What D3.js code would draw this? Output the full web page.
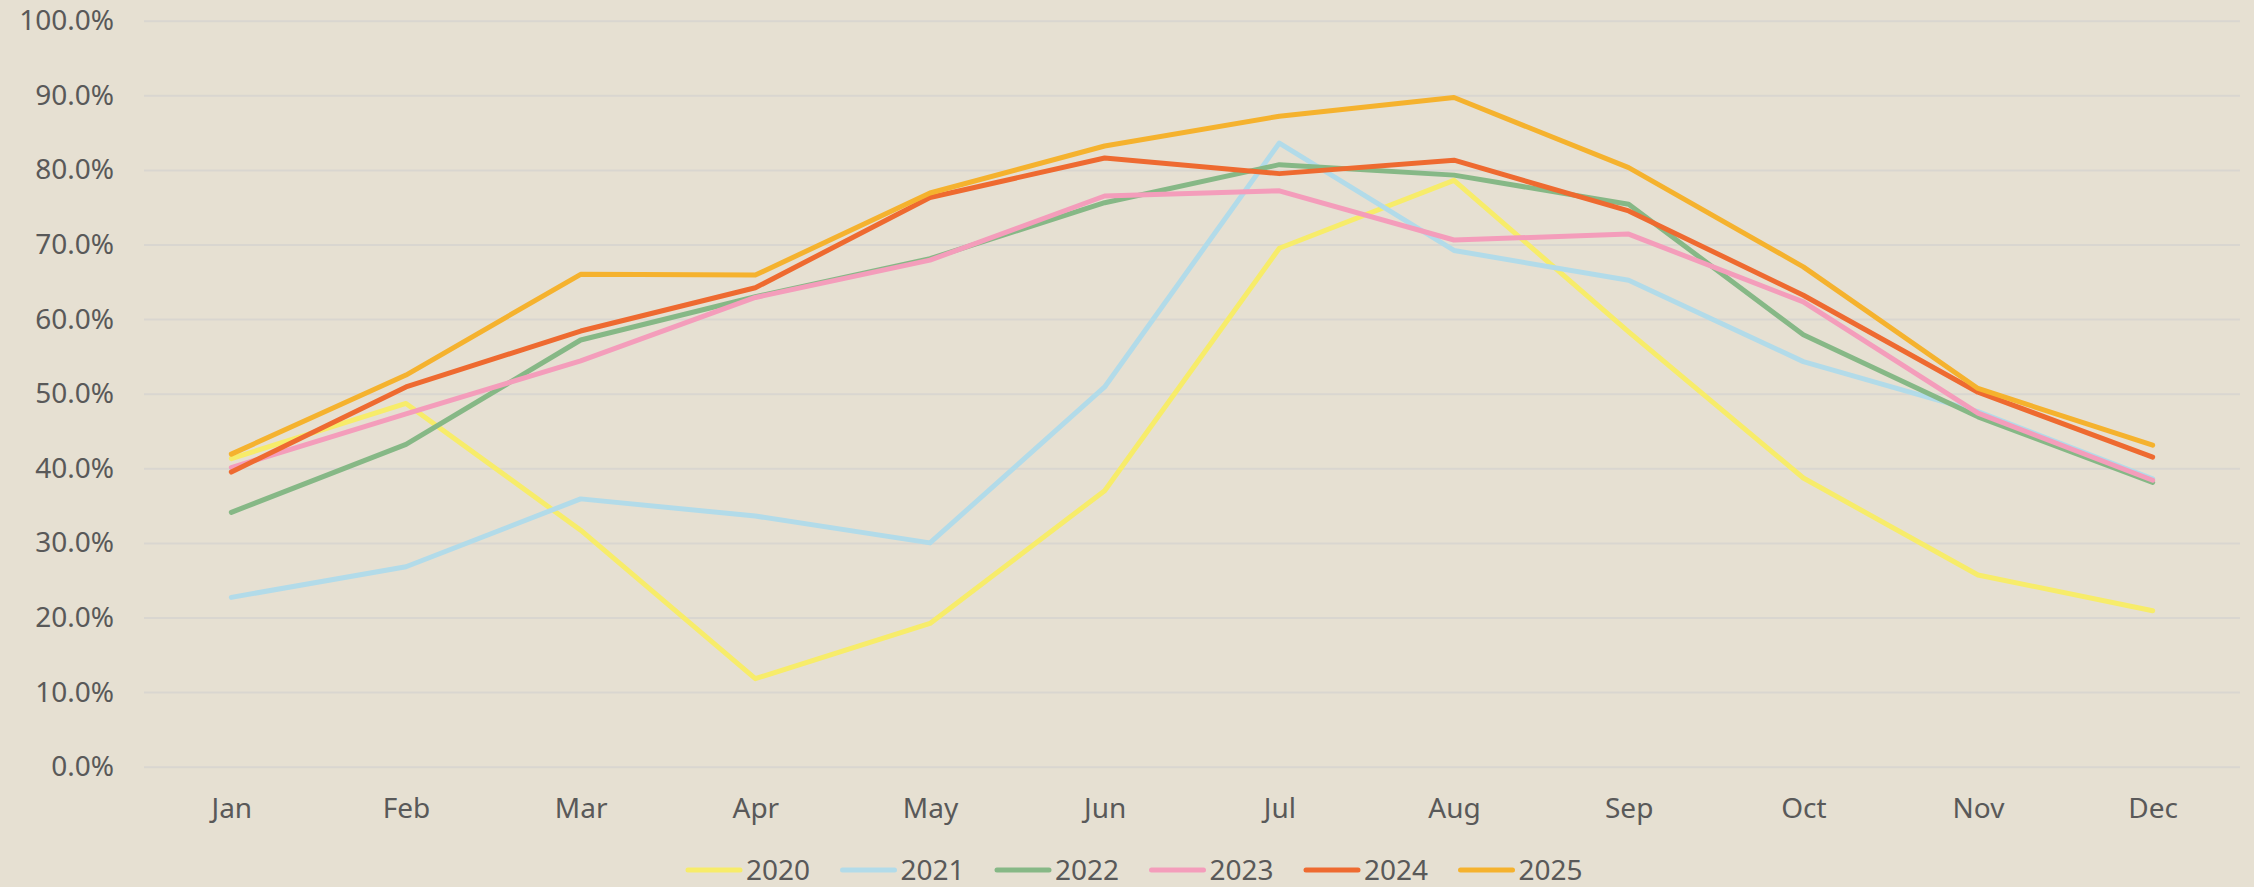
<!DOCTYPE html>
<html>
<head>
<meta charset="utf-8">
<script src="https://cdn.jsdelivr.net/npm/d3@7"></script>
<style>
  html, body { margin: 0; padding: 0; background: #E6E0D2; }
  svg { display: block; }
  text { font-family: "Noto Sans", "Liberation Sans", sans-serif; fill: #595959; }
</style>
</head>
<body>
<svg id="chart" width="2254" height="887"></svg>
<script>
const months = ["Jan","Feb","Mar","Apr","May","Jun","Jul","Aug","Sep","Oct","Nov","Dec"];
const years = ["2020","2021","2022","2023","2024","2025"];
const yTicks = [0, 0.1, 0.2, 0.3, 0.4, 0.5, 0.6, 0.7, 0.8, 0.9, 1.0];

const v2020 = [41.3, 48.7, 31.7, 11.8, 19.2, 37.0, 69.5, 78.6, 58.3, 38.7, 25.7, 20.9];
const v2021 = [22.7, 26.8, 35.9, 33.6, 30.0, 50.9, 83.6, 69.2, 65.2, 54.3, 47.6, 38.6];
const v2022 = [34.1, 43.2, 57.2, 63.0, 68.1, 75.6, 80.7, 79.3, 75.4, 57.9, 46.9, 38.1];
const v2023 = [40.1, 47.3, 54.4, 62.9, 67.9, 76.5, 77.2, 70.6, 71.4, 62.3, 47.4, 38.4];
const v2024 = [39.5, 50.9, 58.4, 64.2, 76.3, 81.6, 79.5, 81.3, 74.5, 63.2, 50.2, 41.5];
const v2025 = [41.9, 52.5, 66.0, 65.9, 76.9, 83.2, 87.2, 89.7, 80.3, 67.0, 50.7, 43.1];

const colors = ["#F7EC6A", "#B2DBE9", "#86B886", "#F49DBB", "#EE6A30", "#F5B22E"];

const seriesValues = [v2020, v2021, v2022, v2023, v2024, v2025];
const series = years.map((yr, i) => ({ name: yr, color: colors[i], values: seriesValues[i] }));

const svg = d3.select("#chart");
const plotLeft = 144, plotRight = 2240, plotTop = 20.7, plotBottom = 766.7;

const x = d3.scalePoint().domain(months).range([plotLeft, plotRight]).padding(0.5);
const y = d3.scaleLinear().domain([0, 1]).range([plotBottom, plotTop]);

// gridlines + y labels
const yAxis = svg.append("g")
  .attr("transform", `translate(${plotLeft},0)`)
  .call(d3.axisLeft(y).tickValues(yTicks).tickFormat(d3.format(".1%"))
    .tickSize(-(plotRight - plotLeft)).tickPadding(30));
yAxis.select(".domain").remove();
yAxis.selectAll(".tick line").attr("stroke", "#D9D6D0").attr("stroke-width", 2);
yAxis.selectAll(".tick text").attr("font-size", 28).attr("fill", "#595959")
  .style("font-family", '"Noto Sans", "Liberation Sans", sans-serif');

// x labels
const xAxis = svg.append("g")
  .attr("transform", `translate(0,${plotBottom})`)
  .call(d3.axisBottom(x).tickSize(0).tickPadding(31));
xAxis.select(".domain").remove();
xAxis.selectAll(".tick text").attr("font-size", 28).attr("fill", "#595959")
  .style("font-family", '"Noto Sans", "Liberation Sans", sans-serif');

// lines
const line = d3.line()
  .x((d, i) => x(months[i]))
  .y(d => y(d / 100));

svg.append("g").selectAll("path")
  .data(series)
  .join("path")
  .attr("d", d => line(d.values))
  .attr("fill", "none")
  .attr("stroke", d => d.color)
  .attr("stroke-width", 5)
  .attr("stroke-linejoin", "round")
  .attr("stroke-linecap", "round");

// legend
const legendX0 = 688, legendStep = 154.5, legendY = 870;
const lg = svg.append("g").selectAll("g")
  .data(series)
  .join("g")
  .attr("transform", (d, i) => `translate(${legendX0 + i * legendStep},${legendY})`);
lg.append("line")
  .attr("x1", 0).attr("x2", 52).attr("y1", 0).attr("y2", 0)
  .attr("stroke", d => d.color).attr("stroke-width", 5).attr("stroke-linecap", "round");
lg.append("text")
  .attr("x", 58).attr("y", 0).attr("dy", "0.35em")
  .attr("font-size", 28)
  .text(d => d.name);
</script>
</body>
</html>
